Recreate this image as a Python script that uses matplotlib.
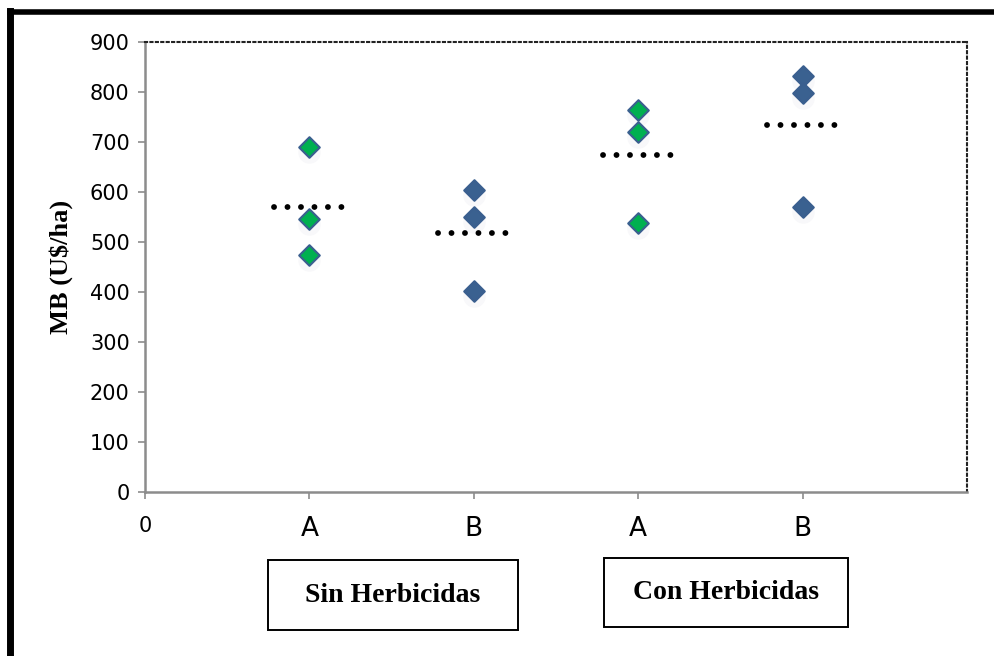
import matplotlib.pyplot as plt
from matplotlib.patches import Rectangle
import numpy as np

# data
positions = [1, 2, 3, 4]
tick_labels = ["0", "A", "B", "A", "B"]
sin_a = [690, 546, 474]
sin_b = [604, 550, 402]
con_a = [764, 720, 538]
con_b = [832, 798, 570]
groups = [sin_a, sin_b, con_a, con_b]
group_names = ["Sin Herbicidas", "Con Herbicidas"]

green = "#00B050"
blue = "#3A6190"
edge = "#3A5F8F"
grey = "#8C8C8C"

fig = plt.figure(figsize=(9.95, 6.56), dpi=100)
ax = fig.add_axes([145 / 995, 1 - 492 / 656, (967 - 145) / 995, (492 - 42) / 656])

for x, vals in zip(positions, groups):
    col = green if x in (1, 3) else blue
    xs = [x] * len(vals)
    # faint shadow under markers
    ax.scatter(xs, np.array(vals) - 10, marker="o", s=260, color="#F8F8FA", zorder=1, linewidths=0)
    ax.scatter(xs, vals, marker="D", s=110, color=col, edgecolors=edge, linewidths=1.5, zorder=3)
    m = np.mean(vals)
    ax.plot([x - 0.215, x + 0.215], [m, m], color="black", lw=4.2,
            linestyle=(0, (0.01, 2.3)), dash_capstyle="round", zorder=2)

ax.set_xlim(0, 5)
ax.set_ylim(0, 900)
ax.set_yticks(range(0, 901, 100))
ax.set_xticks(range(0, 5))
ax.set_xticklabels(tick_labels)
for i, lab in enumerate(ax.get_xticklabels()):
    lab.set_fontsize(15 if i == 0 else 19)
ax.tick_params(axis="y", labelsize=15, length=5, color=grey, width=1.2, pad=6)
ax.tick_params(axis="x", length=5, color=grey, width=1.2, pad=12)

for s in ("left", "bottom"):
    ax.spines[s].set_color(grey)
    ax.spines[s].set_linewidth(1.8)
for s in ("top", "right"):
    ax.spines[s].set_color("#222222")
    ax.spines[s].set_linewidth(1.5)
    ax.spines[s].set_linestyle((0, (1, 1.6)))

ax.set_ylabel("MB (U$/ha)", fontsize=19, fontweight="bold", family="Liberation Serif", labelpad=12)

# group boxes below the axis
box_specs = [(268, 560, 250, 70), (604, 558, 244, 69)]
for (bx, by, bw, bh), name in zip(box_specs, group_names):
    fig.patches.append(Rectangle((bx / 995, 1 - (by + bh) / 656), bw / 995, bh / 656,
                                 transform=fig.transFigure, fill=False, edgecolor="black", lw=1.4))
    fig.text((bx + bw / 2) / 995, 1 - (by + bh / 2) / 656, name, ha="center", va="center",
             fontsize=20, fontweight="bold", family="Liberation Serif")

# thick frame on the top and left edges
fig.add_artist(plt.Line2D([10 / 995, 10 / 995], [0, 1 - 11 / 656], color="black", lw=5,
                          transform=fig.transFigure, solid_capstyle="projecting"))
fig.add_artist(plt.Line2D([10 / 995, 1], [1 - 11.5 / 656, 1 - 11.5 / 656], color="black", lw=4,
                          transform=fig.transFigure, solid_capstyle="projecting"))

fig.savefig("out.png", dpi=100)
